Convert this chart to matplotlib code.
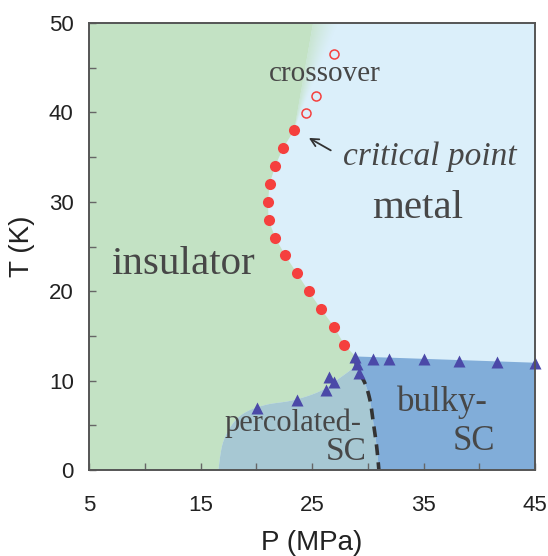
import numpy as np
import matplotlib
matplotlib.use("Agg")
import matplotlib.pyplot as plt
from matplotlib.path import Path
from matplotlib.patches import PathPatch

# ---- measured data ----
# metal-insulator transition (filled) and crossover (open) points
mit_P = [23.4, 22.4, 21.7, 21.2, 21.05, 21.1, 21.7, 22.6, 23.65, 24.7, 25.8, 27.0, 27.9]
mit_T = [38.0, 36.0, 34.0, 32.0, 30.0, 28.0, 26.0, 24.0, 22.0, 20.0, 18.0, 16.0, 14.0]
cross_P = [24.5, 25.4, 27.0]
cross_T = [39.9, 41.8, 46.5]

# superconducting onset (triangles)
sc_P = [20.1, 23.65, 26.3, 27.0, 26.5, 29.2, 29.0, 28.9, 30.5, 31.9, 35.0, 38.2, 41.6, 45.0]
sc_T = [6.9, 7.8, 8.9, 9.8, 10.4, 10.8, 11.9, 12.6, 12.4, 12.4, 12.4, 12.2, 12.1, 12.0]

# phase boundaries
top_edge_P = [25.1]          # insulator edge where it meets T = 50 K
top_edge_T = [50.0]
junction_P = [28.9]
junction_T = [12.7]
perc_P = [28.7, 27.5, 25.7, 23.3, 20.9, 19.1, 17.9, 17.0, 16.6]
perc_T = [11.4, 10.3, 8.8, 7.8, 7.3, 6.5, 5.2, 3.0, 0.0]
dash_P = [28.9, 29.1, 29.75, 30.2, 30.5, 30.8, 31.0]
dash_T = [12.6, 11.2, 9.7, 7.8, 5.3, 2.6, 0.0]
sc_top_P = [28.9, 45.0]
sc_top_T = [12.7, 12.0]
# crossover fan above the critical point
fan_P = [23.4, 25.1, 27.4]
fan_T = [38.0, 50.0, 50.0]

xlim = (5, 45)
ylim = (0, 50)

# ---- colours ----
c_ins = "#c3e2c4"
c_met = "#dbeffa"
c_perc = "#a7c8d3"
c_bulk = "#81add9"
c_red = "#f5403e"
c_tri = "#4b49a8"
c_txt = "#474747"

fig = plt.figure(figsize=(5.48, 5.56), dpi=100)
ax = fig.add_axes([89 / 548, 1 - 470 / 556, (535 - 89) / 548, (470 - 23) / 556])
ax.set_xlim(*xlim)
ax.set_ylim(*ylim)
ax.set_facecolor(c_met)

# smooth the superconducting boundary a little
def smooth(px, py, n=12):
    px, py = np.asarray(px, float), np.asarray(py, float)
    s = np.concatenate([[0], np.cumsum(np.hypot(np.diff(px), np.diff(py)))])
    u = np.linspace(0, s[-1], n * len(px))
    # Catmull-Rom through the points
    P = np.column_stack([px, py])
    P = np.vstack([P[0], P, P[-1]])
    out = []
    for i in range(1, len(P) - 2):
        p0, p1, p2, p3 = P[i - 1], P[i], P[i + 1], P[i + 2]
        for tt in np.linspace(0, 1, n, endpoint=False):
            out.append(0.5 * ((2 * p1) + (-p0 + p2) * tt
                              + (2 * p0 - 5 * p1 + 4 * p2 - p3) * tt ** 2
                              + (-p0 + 3 * p1 - 3 * p2 + p3) * tt ** 3))
    out.append(P[-2])
    out = np.array(out)
    return list(out[:, 0]), list(out[:, 1])

pcs_P, pcs_T = smooth(perc_P, perc_T)
dss_P, dss_T = smooth(dash_P, dash_T)

# insulator region
ins_P = [xlim[0], top_edge_P[0]] + mit_P + junction_P + pcs_P + [xlim[0]]
ins_T = [ylim[1], top_edge_T[0]] + mit_T + junction_T + pcs_T + [ylim[0]]
ax.fill(ins_P, ins_T, color=c_ins, lw=0, zorder=1)

# percolated superconductor region
pc_P = pcs_P[::-1] + [junction_P[0]] + dss_P
pc_T = pcs_T[::-1] + [junction_T[0]] + dss_T
ax.fill(pc_P, pc_T, color=c_perc, lw=0, zorder=1)

# bulk superconductor region
bk_P = sc_top_P + [xlim[1]] + dss_P[::-1]
bk_T = sc_top_T + [ylim[0]] + dss_T[::-1]
ax.fill(bk_P, bk_T, color=c_bulk, lw=0, zorder=1)

# crossover fan: green fading into the metallic colour
fan_path = Path(np.column_stack([fan_P + [fan_P[0]], fan_T + [fan_T[0]]]), closed=True)
fan_patch = PathPatch(fan_path, facecolor="none", edgecolor="none")
ax.add_patch(fan_patch)
gx = np.linspace(fan_P[0], fan_P[2], 300)
gy = np.linspace(fan_T[0], fan_T[1], 200)
GX, GY = np.meshgrid(gx, gy)
frac_h = (GY - fan_T[0]) / (fan_T[1] - fan_T[0])
left = fan_P[0] + frac_h * (fan_P[1] - fan_P[0])
right = fan_P[0] + frac_h * (fan_P[2] - fan_P[0])
t = np.clip((GX - left) / np.maximum(right - left, 1e-6), 0, 1)
rgba = np.zeros(GX.shape + (4,))
rgba[..., :3] = matplotlib.colors.to_rgb(c_ins)
rgba[..., 3] = 0.75 * (1 - t) ** 1.2
im = ax.imshow(rgba, extent=(gx[0], gx[-1], gy[0], gy[-1]), origin="lower",
               aspect="auto", interpolation="bilinear", zorder=1.5)
im.set_clip_path(fan_patch)

# percolated / bulk dividing line
ax.plot(dss_P, dss_T, color="#333333", lw=2.6, ls=(0, (3, 2)), zorder=3)

# data points
ax.plot(mit_P, mit_T, "o", color=c_red, ms=8, mec="none", zorder=4)
ax.plot(cross_P, cross_T, "o", mfc="none", mec=c_red, ms=6.5, mew=1.1, zorder=4)
ax.plot(sc_P, sc_T, "^", color=c_tri, ms=8, mec="none", zorder=4, clip_on=False)

# labels inside the diagram
serif = ["Liberation Serif", "DejaVu Serif"]
ax.text(13.4, 23.0, "insulator", family=serif, fontsize=29.5, color=c_txt,
        ha="center", va="center", zorder=5)
ax.text(34.5, 29.3, "metal", family=serif, fontsize=29.5, color=c_txt,
        ha="center", va="center", zorder=5)
ax.text(35.6, 35.0, "critical point", family=serif, style="italic", fontsize=24,
        color=c_txt, ha="center", va="center", zorder=5)
ax.text(26.1, 44.3, "crossover", family=serif, fontsize=21, color=c_txt,
        ha="center", va="center", zorder=5)
ax.text(23.3, 5.2, "percolated-", family=serif, fontsize=22, color=c_txt,
        ha="center", va="center", zorder=5)
ax.text(28.1, 2.0, "SC", family=serif, fontsize=24, color=c_txt,
        ha="center", va="center", zorder=5)
ax.text(36.7, 7.6, "bulky-", family=serif, fontsize=25, color=c_txt,
        ha="center", va="center", zorder=5)
ax.text(39.5, 3.2, "SC", family=serif, fontsize=25, color=c_txt,
        ha="center", va="center", zorder=5)
ax.annotate("", xy=(24.5, 37.3), xytext=(26.9, 35.6),
            arrowprops=dict(arrowstyle="->", color="#333333", lw=1.3,
                            mutation_scale=14), zorder=5)

# axes styling
sans = ["Liberation Sans", "DejaVu Sans"]
ax.set_xticks([5, 15, 25, 35, 45])
ax.set_xticks([10, 20, 30, 40], minor=True)
ax.set_yticks([0, 10, 20, 30, 40, 50])
ax.set_yticks([5, 15, 25, 35, 45], minor=True)
ax.tick_params(which="both", direction="in", length=5, width=1, color="#666666",
               top=False, right=False)
ax.tick_params(axis="x", pad=18, labelsize=16, labelcolor="#222222")
ax.tick_params(axis="y", pad=11, labelsize=16, labelcolor="#222222")
for lab in ax.get_xticklabels() + ax.get_yticklabels():
    lab.set_family(sans)
for sp in ax.spines.values():
    sp.set_color("#555555")
    sp.set_linewidth(1.4)
    sp.set_zorder(6)

ax.set_xlabel("P (MPa)", family=sans, fontsize=20, color="#222222", labelpad=10)
ax.set_ylabel("T (K)", family=sans, fontsize=20, color="#222222", labelpad=10)

fig.savefig("out.png", dpi=100)
